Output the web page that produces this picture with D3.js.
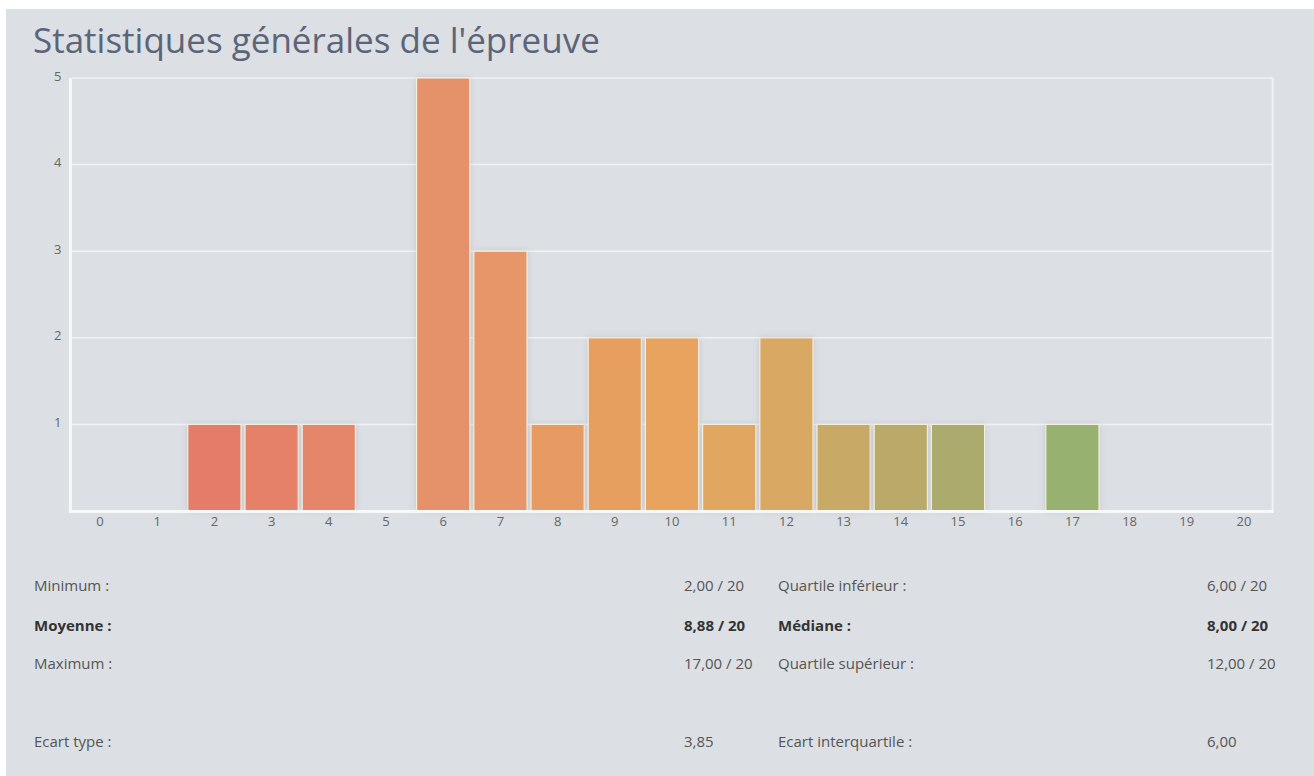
<!DOCTYPE html>
<html>
<head>
<meta charset="utf-8">
<script src="https://cdn.jsdelivr.net/npm/d3@7"></script>
<style>
  html, body { margin: 0; padding: 0; background: #ffffff; }
  svg { display: block; }
  text { font-family: "Open Sans", "Noto Sans", sans-serif; }
</style>
</head>
<body>
<svg id="chart" width="1314" height="776"></svg>
<script>
// Score distribution (number of students per mark out of 20)
const grades = d3.range(0, 21).map(String);
const counts = [0, 0, 1, 1, 1, 0, 5, 3, 1, 2, 2, 1, 2, 1, 1, 1, 0, 1, 0, 0, 0];
const yTicks = [1, 2, 3, 4, 5];

// Summary statistics table
const statLabelsLeft = ["Minimum :", "Moyenne :", "Maximum :", "Ecart type :"];
const statValuesLeft = ["2,00 / 20", "8,88 / 20", "17,00 / 20", "3,85"];
const statLabelsRight = ["Quartile inférieur :", "Médiane :", "Quartile supérieur :", "Ecart interquartile :"];
const statValuesRight = ["6,00 / 20", "8,00 / 20", "12,00 / 20", "6,00"];
const statBold = [false, true, false, false];

const svg = d3.select("#chart");
const W = 1314, H = 776;

// grey panel
svg.append("rect").attr("x", 6).attr("y", 9).attr("width", W - 6).attr("height", H - 9)
  .attr("fill", "#dcdfe3");

svg.append("text").attr("x", 33).attr("y", 53)
  .attr("font-size", 35).attr("fill", "#5b6579")
  .text("Statistiques générales de l'épreuve");

const margin = { left: 71.4, right: 1272.6, top: 78, bottom: 511 };

const x = d3.scaleBand().domain(grades)
  .range([margin.left, margin.right]).paddingInner(0.07).paddingOuter(0.035);
const y = d3.scaleLinear().domain([0, 5]).range([margin.bottom, margin.top]);

// colour ramp from low marks (red) to high marks (green)
const color = d3.scaleLinear()
  .domain([2, 6, 10, 12, 15, 17])
  .range(["#e57b69", "#e5916a", "#e8a45e", "#d9a862", "#aaab6d", "#97b270"])
  .interpolate(d3.interpolateRgb);

const defs = svg.append("defs");
const f = defs.append("filter").attr("id", "shadow")
  .attr("x", "-20%").attr("y", "-20%").attr("width", "140%").attr("height", "140%");
f.append("feDropShadow").attr("dx", 0).attr("dy", 0).attr("stdDeviation", 3)
  .attr("flood-color", "#9aa0a8").attr("flood-opacity", 0.35);

// gridlines
const grid = svg.append("g");
grid.selectAll("line").data(yTicks).join("line")
  .attr("x1", margin.left).attr("x2", margin.right)
  .attr("y1", d => y(d)).attr("y2", d => y(d))
  .attr("stroke", "#f4f5f7").attr("stroke-width", 1.5).attr("opacity", 0.9);

// right border of the plot
svg.append("line").attr("x1", margin.right).attr("x2", margin.right)
  .attr("y1", y(5)).attr("y2", y(0))
  .attr("stroke", "#f2f3f5").attr("stroke-width", 2);

// bars
svg.append("g").selectAll("rect").data(counts.map((c, i) => ({ g: grades[i], c })))
  .join("rect")
  .filter(d => d.c > 0)
  .attr("x", d => x(d.g)).attr("width", x.bandwidth())
  .attr("y", d => y(d.c)).attr("height", d => y(0) - y(d.c))
  .attr("fill", d => color(+d.g))
  .attr("stroke", "#f3eddc").attr("stroke-width", 1.2)
  .attr("filter", "url(#shadow)");

// axes lines
svg.append("line").attr("x1", margin.left - 1).attr("x2", margin.left - 1)
  .attr("y1", y(5)).attr("y2", y(0) + 1.5)
  .attr("stroke", "#f7f8fa").attr("stroke-width", 3);
svg.append("line").attr("x1", margin.left - 2.5).attr("x2", margin.right + 1)
  .attr("y1", y(0) + 0.5).attr("y2", y(0) + 0.5)
  .attr("stroke", "#f7f8fa").attr("stroke-width", 3);

// y axis labels
const yAxis = d3.axisLeft(y).tickValues(yTicks).tickSize(0).tickPadding(0).tickFormat(d3.format("d"));
const yg = svg.append("g").attr("transform", `translate(${margin.left - 10},-2)`).call(yAxis);
yg.select(".domain").remove();
yg.selectAll("text").attr("font-size", 13).attr("fill", "#666").attr("font-family", "Open Sans");

// x axis labels
const xAxis = d3.axisBottom(x).tickSize(0).tickPadding(0);
const xg = svg.append("g").attr("transform", `translate(0,${margin.bottom + 6})`).call(xAxis);
xg.select(".domain").remove();
xg.selectAll("text").attr("font-size", 13).attr("fill", "#666").attr("font-family", "Open Sans");

// statistics table
const rowY = [591, 631, 669, 747];
const table = svg.append("g").attr("font-size", 15);
const cols = [
  { x: 34, texts: statLabelsLeft },
  { x: 684, texts: statValuesLeft },
  { x: 778, texts: statLabelsRight },
  { x: 1207, texts: statValuesRight }
];
cols.forEach(col => {
  table.append("g").selectAll("text").data(col.texts).join("text")
    .attr("x", col.x).attr("y", (d, i) => rowY[i])
    .attr("font-weight", (d, i) => statBold[i] ? 700 : 400)
    .attr("fill", (d, i) => statBold[i] ? "#333" : "#555")
    .text(d => d);
});
</script>
</body>
</html>
